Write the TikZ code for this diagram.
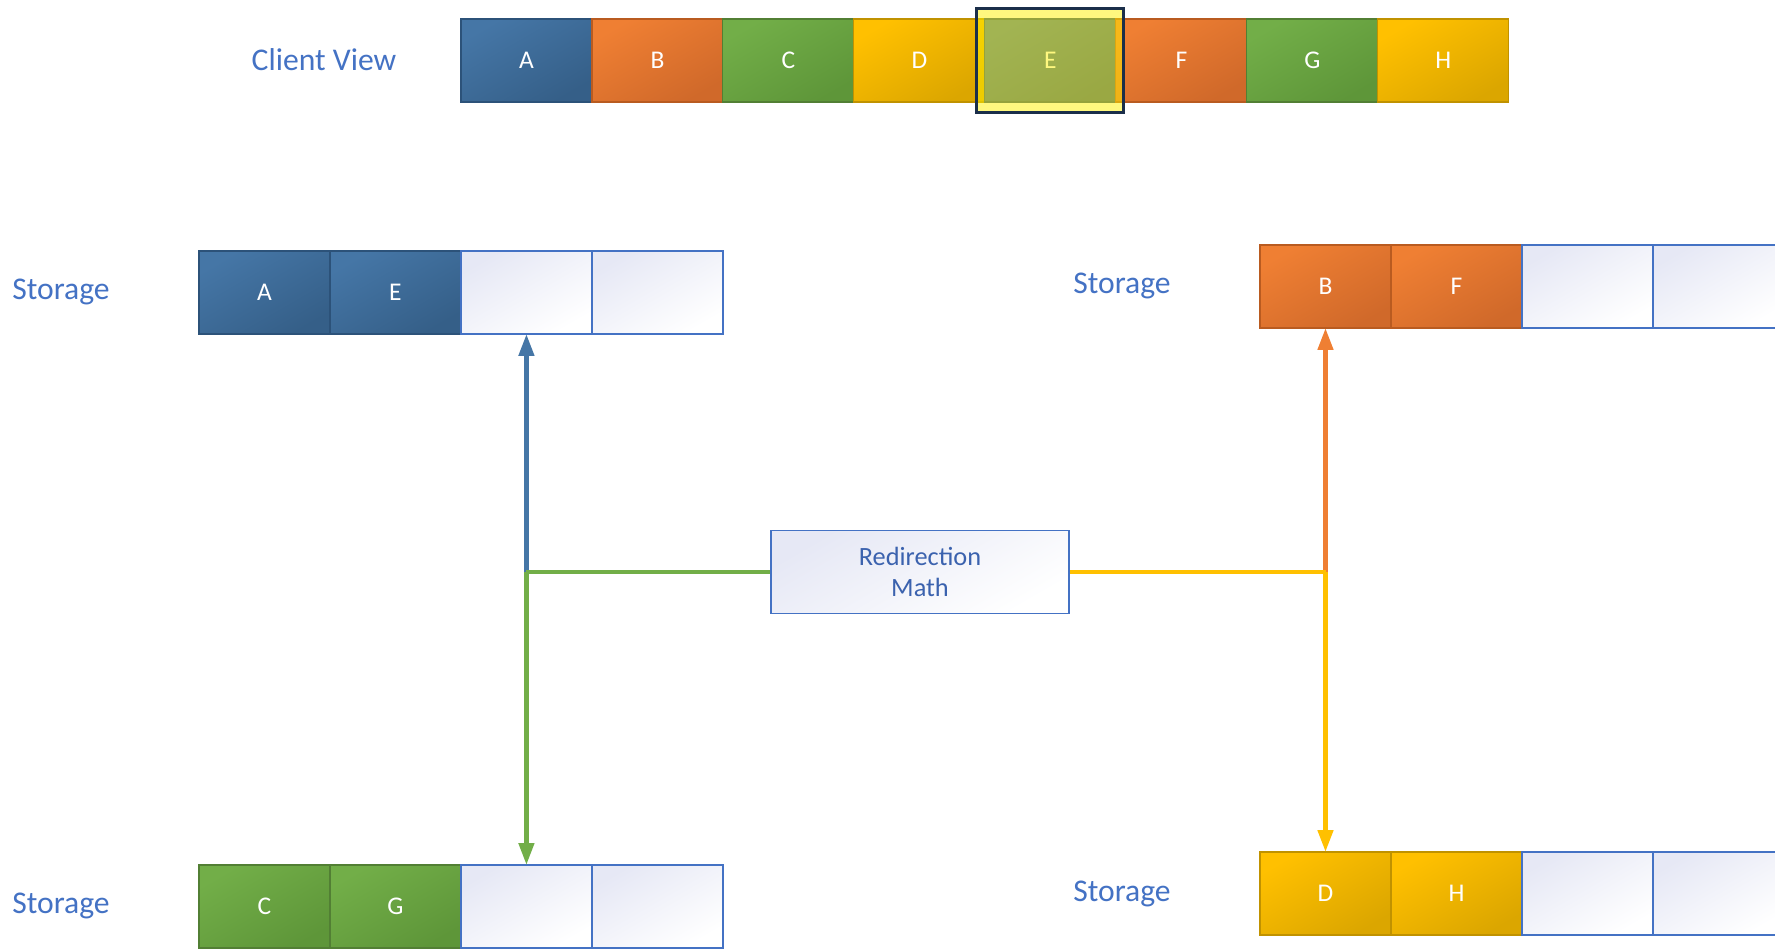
\documentclass[tikz,border=0pt]{standalone}
\usepackage{fontspec}
\setmainfont{Carlito}
\usepackage{xcolor}
\usetikzlibrary{arrows.meta, positioning}

\definecolor{blueL}{HTML}{4576A6}
\definecolor{blueM}{HTML}{355F88}
\definecolor{blueD}{HTML}{2C5279}
\definecolor{orangeL}{HTML}{EF7F33}
\definecolor{orangeM}{HTML}{D0692A}
\definecolor{orangeD}{HTML}{B95B20}
\definecolor{greenL}{HTML}{72AE48}
\definecolor{greenM}{HTML}{5E9639}
\definecolor{greenD}{HTML}{527F34}
\definecolor{goldL}{HTML}{FFC000}
\definecolor{goldM}{HTML}{DBA600}
\definecolor{goldD}{HTML}{C09200}
\definecolor{emptyL}{HTML}{E6E8F5}
\definecolor{frameBlue}{HTML}{4472C4}
\definecolor{textBlue}{HTML}{4472C4}
\definecolor{mathBlue}{HTML}{3B62AE}
\definecolor{selFrame}{HTML}{1B2F4A}

\begin{document}
\begin{tikzpicture}[x=0.02cm, y=-0.02cm, >={Triangle[length=0.44cm, width=0.3cm]},
	cell/.style={minimum width=2.62cm, minimum height=1.66cm, inner sep=0pt, outer sep=0pt, line width=0.6pt, text=white, font=\fontsize{14.5}{16}\selectfont},
	bluecell/.style={cell, draw=blueD, top color=blueL, bottom color=blueM, shading angle=30},
	orangecell/.style={cell, draw=orangeD, top color=orangeL, bottom color=orangeM, shading angle=30},
	greencell/.style={cell, draw=greenD, top color=greenL, bottom color=greenM, shading angle=30},
	goldcell/.style={cell, draw=goldD, top color=goldL, bottom color=goldM, shading angle=30},
	emptycell/.style={cell, draw=frameBlue, line width=1pt, top color=emptyL, bottom color=white, shading angle=30},
	lbl/.style={text=textBlue, font=\fontsize{18}{20}\selectfont},
	link/.style={line width=2.6pt}]
	
	% 1. page frame
	\useasboundingbox (0,0) rectangle (1775,948);
	
	% 2. client view strip
	\node[lbl] (cvLbl) at (324,60) {Client View};
	\node[bluecell, anchor=north west] (cvA) at (461,19) {A};
	\node[orangecell, right=0pt of cvA] (cvB) {B};
	\node[greencell, right=0pt of cvB] (cvC) {C};
	\node[goldcell, right=0pt of cvC] (cvD) {D};
	\node[bluecell, right=0pt of cvD] (cvE) {E};
	\node[orangecell, right=0pt of cvE] (cvF) {F};
	\node[greencell, right=0pt of cvF] (cvG) {G};
	\node[goldcell, right=0pt of cvG] (cvH) {H};
	
	% 3. selected block (E)
	\node[draw=selFrame, line width=1.8pt, fill=yellow, fill opacity=0.5, minimum width=2.94cm, minimum height=2.08cm] (sel) at (cvE) {};
	
	% 4. storage, top left
	\node[lbl] (ltLbl) at (61,292) {Storage};
	\node[bluecell, anchor=north west] (ltA) at (199,251) {A};
	\node[bluecell, right=0pt of ltA] (ltE) {E};
	\node[emptycell, right=0pt of ltE] (lt3) {};
	\node[emptycell, right=0pt of lt3] (lt4) {};
	
	% 5. storage, bottom left
	\node[lbl] (lbLbl) at (61,906) {Storage};
	\node[greencell, anchor=north west] (lbC) at (199,865) {C};
	\node[greencell, right=0pt of lbC] (lbG) {G};
	\node[emptycell, right=0pt of lbG] (lb3) {};
	\node[emptycell, right=0pt of lb3] (lb4) {};
	
	% 6. storage, top right
	\node[lbl] (rtLbl) at (1122,286) {Storage};
	\node[orangecell, anchor=north west] (rtB) at (1260,245) {B};
	\node[orangecell, right=0pt of rtB] (rtF) {F};
	\node[emptycell, right=0pt of rtF] (rt3) {};
	\node[emptycell, right=0pt of rt3] (rt4) {};
	
	% 7. storage, bottom right
	\node[lbl] (rbLbl) at (1122,894) {Storage};
	\node[goldcell, anchor=north west] (rbD) at (1260,852) {D};
	\node[goldcell, right=0pt of rbD] (rbH) {H};
	\node[emptycell, right=0pt of rbH] (rb3) {};
	\node[emptycell, right=0pt of rb3] (rb4) {};
	
	% 8. redirection box
	\node[draw=frameBlue, line width=1pt, top color=emptyL, bottom color=white, shading angle=30, minimum width=5.96cm, minimum height=1.66cm, align=center, text=mathBlue, font=\fontsize{15}{18}\selectfont] (rm) at (920,572) {Redirection\\Math};
	
	% 9. junctions and links
	\coordinate (jl) at (lt3.south |- rm.west);
	\coordinate (jr) at (rtB.south |- rm.east);
	\draw[link, ->, blueL] (jl) -- (lt3.south);
	\draw[link, greenL] (rm.west) -- (jl);
	\draw[link, ->, greenL] (jl) -- (lb3.north);
	\draw[link, ->, orangeL] (jr) -- (rtB.south);
	\draw[link, goldL] (rm.east) -- (jr);
	\draw[link, ->, goldL] (jr) -- (rbD.north);
	
\end{tikzpicture}
\end{document}
